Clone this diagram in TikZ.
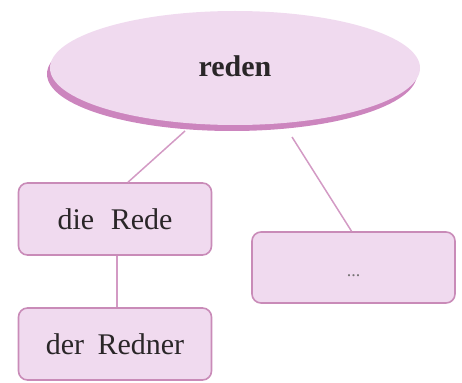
\documentclass[tikz,border=0pt]{standalone}
\usepackage{fontspec}
\setmainfont{Liberation Serif}
\usetikzlibrary{shapes.geometric,calc,shadows}
\definecolor{fillpink}{HTML}{F0DAEF}
\definecolor{edgepink}{HTML}{C98BB8}
\definecolor{rimpink}{HTML}{CC85BE}
\definecolor{linepink}{HTML}{D39AC4}
\definecolor{txt}{HTML}{2A2628}
\tikzset{
  wordbox/.style={draw=edgepink, line width=1.6pt, fill=fillpink, rounded corners=9pt,
    minimum width=193pt, minimum height=72pt, inner sep=0pt, text=txt,
    font=\fontsize{30}{31}\selectfont},
  disc/.style={ellipse, fill=fillpink, minimum width=370pt, minimum height=114pt, inner sep=0pt,
    text=txt, font=\fontsize{30}{31}\selectfont\bfseries,
    general shadow={fill=rimpink, shadow xshift=-3pt, shadow yshift=-6pt}},
  conn/.style={draw=linepink, line width=1.5pt}
}
\begin{document}
\begin{tikzpicture}[x=1pt,y=-1pt]
\useasboundingbox (0,0) rectangle (462,382);
\node[disc] (reden) at (235,68) {\raisebox{4pt}{reden}};
\node[wordbox] (rede) at (115,219) {die\hspace{0.55em}Rede};
\node[wordbox] (redner) at (115,344) {der\hspace{0.45em}Redner};
\node[wordbox, minimum width=203pt, minimum height=71pt] (dots) at (353.5,267.5) {\raisebox{-9pt}[0pt][0pt]{\fontsize{18}{18}\selectfont\color{txt!65}...}};
\draw[conn] ($(reden.center)+(-50,63)$) -- ($(rede.north)+(13,0)$);
\draw[conn] ($(reden.center)+(57,69)$) -- ($(dots.north)+(-2,0)$);
\draw[conn] ($(rede.south)+(2,0)$) -- ($(redner.north)+(2,0)$);
\end{tikzpicture}
\end{document}
